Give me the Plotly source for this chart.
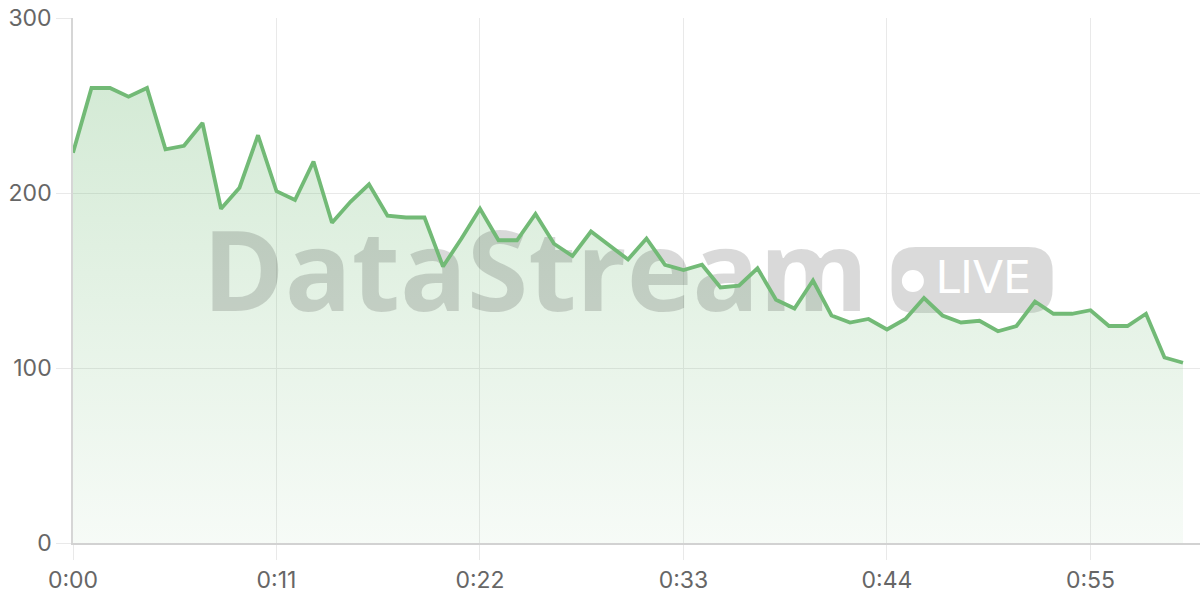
import plotly.graph_objects as go

seconds = list(range(61))
values = [223, 260, 260, 255, 260, 225, 227, 240, 191, 203,
          233, 201, 196, 218, 183, 195, 205, 187, 186, 186,
          158, 174, 191, 173, 173, 188, 171, 164, 178, 170,
          162, 174, 159, 156, 159, 146, 147, 157, 139, 134,
          150, 130, 126, 128, 122, 128, 140, 130, 126, 127,
          121, 124, 138, 131, 131, 133, 124, 124, 131, 106, 103]
x_tick_vals = [0, 11, 22, 33, 44, 55]
x_tick_text = ["0:00", "0:11", "0:22", "0:33", "0:44", "0:55"]
y_tick_vals = [0, 100, 200, 300]

LINE = "rgb(114,186,118)"
GRID = "#e9e9e9"

fig = go.Figure()

# gradient area
fig.add_trace(go.Scatter(
    x=seconds, y=values, mode="none", fill="tozeroy",
    fillgradient=dict(type="vertical", start=0, stop=270,
                      colorscale=[[0, "rgba(112,186,117,0.06)"],
                                  [1, "rgba(112,186,117,0.31)"]]),
    hoverinfo="skip", showlegend=False))

# watermark text
fig.add_trace(go.Scatter(
    x=[25.0, 49.2], y=[148.5, 149.3], mode="text",
    text=["<b>DataStream</b>", "LIVE"],
    textposition="middle center",
    textfont=dict(family=["Open Sans", "DejaVu Sans"], size=[111, 44],
                  color=["rgba(0,0,0,0.15)", "rgba(255,255,255,1)"]),
    hoverinfo="skip", showlegend=False, cliponaxis=False))

# data line
fig.add_trace(go.Scatter(
    x=seconds, y=values, mode="lines",
    line=dict(color=LINE, width=3.8),
    showlegend=False, hovertemplate="%{y}<extra></extra>"))

# LIVE badge (pill) and dot
w, h, r = 161, 66, 24
hw, hh = w / 2, h / 2
path = (f"M {-hw + r},{-hh} L {hw - r},{-hh} Q {hw},{-hh} {hw},{-hh + r} "
        f"L {hw},{hh - r} Q {hw},{hh} {hw - r},{hh} L {-hw + r},{hh} "
        f"Q {-hw},{hh} {-hw},{hh - r} L {-hw},{-hh + r} Q {-hw},{-hh} {-hw + r},{-hh} Z")
fig.add_shape(type="path", xref="x", yref="y", xsizemode="pixel", ysizemode="pixel",
              xanchor=48.6, yanchor=150.3, path=path,
              fillcolor="rgba(0,0,0,0.145)", line=dict(width=0), layer="below")
fig.add_shape(type="circle", xref="x", yref="y", xsizemode="pixel", ysizemode="pixel",
              xanchor=45.4, yanchor=149.7, x0=-11, x1=11, y0=-11, y1=11,
              fillcolor="white", line=dict(width=0), layer="below")

fig.update_layout(
    width=1200, height=600,
    margin=dict(l=73, r=0, t=18, b=57),
    paper_bgcolor="white", plot_bgcolor="white",
    font=dict(family="Inter", size=23, color="#666666"),
    showlegend=False,
)
fig.update_xaxes(
    range=[0, 60.92], tickvals=x_tick_vals, ticktext=x_tick_text,
    showgrid=True, gridcolor=GRID, gridwidth=1.3,
    ticks="outside", ticklen=15, tickcolor=GRID, tickwidth=1.3,
    showline=True, linecolor="#d2d2d2", linewidth=2,
    zeroline=False, automargin=False,
)
fig.update_yaxes(
    range=[0, 300], tickvals=y_tick_vals,
    showgrid=True, gridcolor=GRID, gridwidth=1.3,
    ticks="outside", ticklen=15, tickcolor=GRID, tickwidth=1.3,
    showline=True, linecolor="#d6d6d6", linewidth=1.5,
    zeroline=False, automargin=False,
)

fig.write_html("out.html", config={"displayModeBar": False},
               post_script="document.body.style.margin='0';document.body.style.overflow='hidden';")
